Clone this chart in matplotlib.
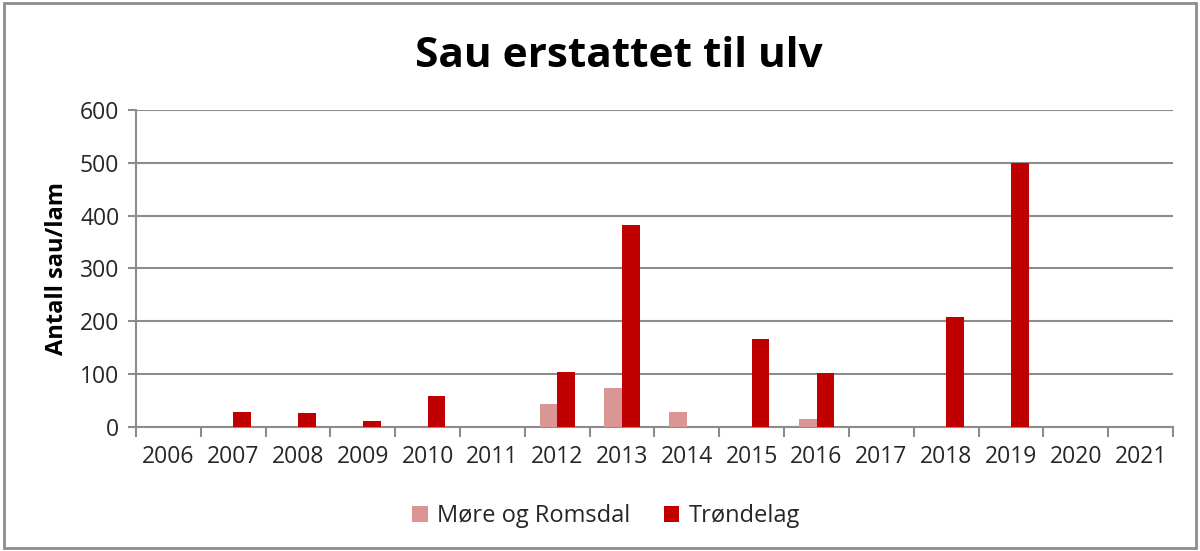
import numpy as np
import matplotlib.pyplot as plt
from matplotlib.patches import Rectangle

# Data
years = ['2006', '2007', '2008', '2009', '2010', '2011', '2012', '2013',
         '2014', '2015', '2016', '2017', '2018', '2019', '2020', '2021']
more_romsdal = [0, 0, 0, 0, 0, 0, 44, 74, 29, 0, 16, 0, 0, 0, 0, 0]
trondelag = [0, 29, 27, 11, 58, 0, 104, 383, 0, 166, 102, 0, 208, 500, 0, 0]

plt.rcParams['font.family'] = ['Open Sans', 'DejaVu Sans']

grid_col = '#8c8c8c'
text_col = '#262626'

fig = plt.figure(figsize=(12, 5.51), dpi=100)
ax = fig.add_axes([0.1133, 0.225, 0.8642, 0.5755])

x = np.arange(len(years))
w = 0.273
ax.bar(x - w / 2, more_romsdal, width=w, color='#DA9694', label='Møre og Romsdal', zorder=3)
ax.bar(x + w / 2, trondelag, width=w, color='#C00000', label='Trøndelag', zorder=3)

ax.set_xlim(-0.5, len(years) - 0.5)
ax.set_ylim(0, 600)
ax.set_yticks(np.arange(0, 601, 100))
ax.yaxis.grid(True, color=grid_col, linewidth=1.5, zorder=0)
ax.set_axisbelow(True)

# category labels in the middle, tick marks between categories
ax.set_xticks(x)
ax.set_xticklabels(years)
ax.set_xticks(np.arange(-0.5, len(years)), minor=True)
ax.tick_params(axis='x', which='major', length=0, pad=13, labelsize=16.5, labelcolor=text_col)
ax.tick_params(axis='x', which='minor', length=7, width=1.5, color=grid_col, direction='out')
ax.tick_params(axis='y', length=6, width=1.5, color=grid_col, pad=6, labelsize=16.5, labelcolor=text_col)

for side in ['top', 'right']:
    ax.spines[side].set_visible(False)
for side in ['left', 'bottom']:
    ax.spines[side].set_color(grid_col)
    ax.spines[side].set_linewidth(1.5)

ax.set_ylabel('Antall sau/lam', fontsize=17, fontweight='bold', color='black', labelpad=8)
fig.suptitle('Sau erstattet til ulv', fontsize=30.5, fontweight='bold', x=0.516, y=0.935)

fig.legend(loc='center', bbox_to_anchor=(0.505, 0.063), ncol=2, frameon=False,
           fontsize=17, handlelength=0.65, handleheight=0.65, columnspacing=1.45,
           handletextpad=0.38, labelcolor=text_col)

# grey border around the whole chart
fig.patches.append(Rectangle((0.003, 0.005), 0.994, 0.99, transform=fig.transFigure,
                             fill=False, edgecolor='#8c8c8c', linewidth=2))

fig.savefig('out.png', dpi=100)
